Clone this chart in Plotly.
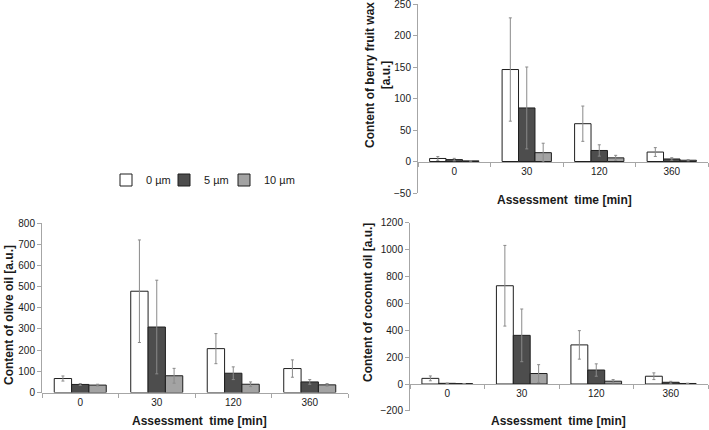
import plotly.graph_objects as go

W, H = 709, 430

categories = ["0", "30", "120", "360"]
series_names = ["0 µm", "5 µm", "10 µm"]
series_colors = ["#ffffff", "#4d4d4d", "#a3a3a3"]

berry_0 = [4.8, 146, 60, 15]
berry_5 = [3, 85, 17.5, 4]
berry_10 = [1, 14, 5.8, 2]
berry_err_0 = [3, 82, 28, 7]
berry_err_5 = [2, 65, 9, 2]
berry_err_10 = [0.5, 15, 4, 1]

olive_0 = [66, 478, 207, 113]
olive_5 = [38, 309, 91, 50]
olive_10 = [35, 79, 39, 36]
olive_err_0 = [12, 242, 71, 41]
olive_err_5 = [4, 221, 30, 11]
olive_err_10 = [4, 35, 11, 6]

coco_0 = [42, 731, 291, 58]
coco_5 = [5, 362, 104, 13]
coco_10 = [3, 78, 21, 4]
coco_err_0 = [18, 300, 106, 25]
coco_err_5 = [2, 196, 46, 7]
coco_err_10 = [1, 66, 12, 2]

FONT = "Liberation Sans, Arial, sans-serif"
AXC = "#a6a6a6"
TXT = "#1a1a1a"


def px(x):
    return x / W


def py(y):
    return 1 - y / H


panels = [
    ("x", "y", [berry_0, berry_5, berry_10], [berry_err_0, berry_err_5, berry_err_10],
     (418, 708), (4, 193), (-50, 250), 50),
    ("x2", "y2", [olive_0, olive_5, olive_10], [olive_err_0, olive_err_5, olive_err_10],
     (42, 348), (223, 392.5), (0, 800), 100),
    ("x3", "y3", [coco_0, coco_5, coco_10], [coco_err_0, coco_err_5, coco_err_10],
     (410, 708), (222.7, 410.9), (-200, 1200), 200),
]

legend_names = ["legend", "legend2", "legend3"]
legend_x = [106, 164, 224]

fig = go.Figure()
layout = dict(
    width=W, height=H,
    margin=dict(l=0, r=0, t=0, b=0, autoexpand=False),
    paper_bgcolor="white", plot_bgcolor="white",
    barmode="group", bargap=0.32, bargroupgap=0,
    font=dict(family=FONT, size=10, color=TXT),
    showlegend=True,
)
for li, ln in enumerate(legend_names):
    layout[ln] = dict(orientation="h", x=px(legend_x[li]), y=py(180), xanchor="left",
                      yanchor="middle", font=dict(size=11, family=FONT, color=TXT),
                      bgcolor="rgba(0,0,0,0)", itemwidth=30)

for pi, (xa, ya, vals, errs, xd, yd, yr, dt) in enumerate(panels):
    for si in range(3):
        fig.add_trace(go.Bar(
            x=categories, y=vals[si], name=series_names[si],
            xaxis=xa, yaxis=ya,
            marker=dict(color=series_colors[si], line=dict(color="#1f1f1f", width=1)),
            error_y=dict(type="data", array=errs[si], color="#8a8a8a", thickness=1, width=1.5),
            legendgroup=series_names[si], showlegend=(pi == 0), legend=legend_names[si],
        ))
    xkey = "xaxis" if xa == "x" else "xaxis" + xa[1:]
    ykey = "yaxis" if ya == "y" else "yaxis" + ya[1:]
    d0, d1 = py(yd[1]), py(yd[0])
    zero_pos = d0 + (0 - yr[0]) / (yr[1] - yr[0]) * (d1 - d0)
    layout[xkey] = dict(
        domain=[px(xd[0]), px(xd[1])], anchor="free", position=zero_pos,
        type="category", showline=True, linecolor=AXC, linewidth=1,
        ticks="outside", tickson="boundaries", ticklen=4, tickcolor=AXC,
        showgrid=False, zeroline=False, tickfont=dict(size=10, family=FONT, color=TXT),
        fixedrange=True,
    )
    layout[ykey] = dict(
        domain=[d0, d1], anchor=xa, range=list(yr), dtick=dt, tick0=0,
        showline=True, linecolor=AXC, linewidth=1,
        ticks="outside", ticklen=4, tickcolor=AXC, showgrid=False, zeroline=False,
        tickfont=dict(size=10, family=FONT, color=TXT), tickformat="d",
        ticklabeloverflow="allow", fixedrange=True,
    )

TITLE_FONT = dict(family=FONT, size=12, color=TXT)
annotations = [
    dict(text="<b>Assessment  time [min]</b>", x=px(564), y=py(200)),
    dict(text="<b>Assessment  time [min]</b>", x=px(199), y=py(421)),
    dict(text="<b>Assessment  time [min]</b>", x=px(558), y=py(421)),
    dict(text="<b>Content of berry fruit wax<br>[a.u.]</b>", x=px(378), y=py(75), textangle=-90),
    dict(text="<b>Content of olive oil [a.u.]</b>", x=px(9), y=py(315), textangle=-90),
    dict(text="<b>Content of coconut oil [a.u.]</b>", x=px(368), y=py(303), textangle=-90),
]
layout["annotations"] = [
    dict(a, xref="paper", yref="paper", showarrow=False, xanchor="center", yanchor="middle",
         font=TITLE_FONT) for a in annotations
]

fig.update_layout(**layout)
fig.write_html("out.html", config={"displayModeBar": False, "staticPlot": True},
               post_script="document.body.style.margin='0';")
